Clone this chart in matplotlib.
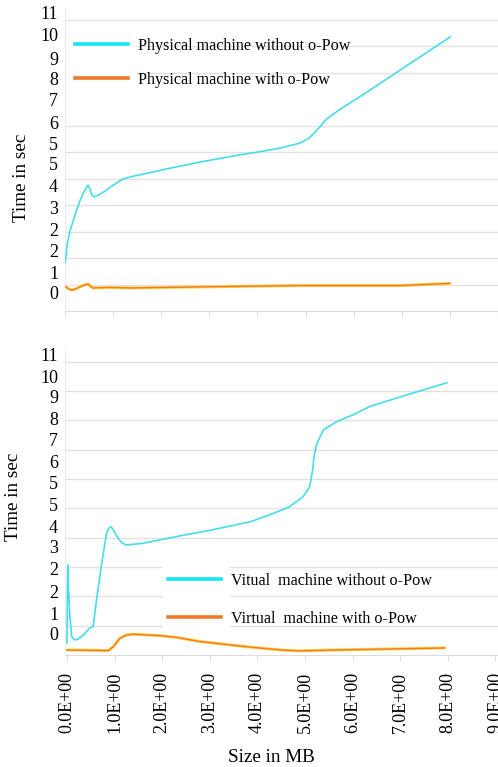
import matplotlib
matplotlib.use("Agg")
import matplotlib.pyplot as plt
from matplotlib.lines import Line2D
from matplotlib.patches import Rectangle

plt.rcParams['font.family'] = ['Liberation Serif', 'DejaVu Serif']

# ---------------- data ----------------
# Top panel: physical machine
phys_x_wo = [0.0, 0.05, 0.10, 0.17, 0.24, 0.31, 0.38, 0.44, 0.48, 0.52, 0.56, 0.60, 0.70, 0.85,
             1.0, 1.2, 1.4, 1.76, 2.1, 2.8, 3.62, 4.04, 4.45, 4.87, 5.07, 5.24, 5.42, 5.69,
             6.25, 7.07, 8.01]
phys_y_wo = [1.81, 2.55, 3.0, 3.4, 3.81, 4.15, 4.45, 4.65, 4.75, 4.6, 4.38, 4.31, 4.38, 4.55,
             4.75, 4.98, 5.08, 5.22, 5.36, 5.62, 5.89, 6.01, 6.14, 6.33, 6.52, 6.83, 7.22, 7.58,
             8.23, 9.22, 10.35]
phys_x_w = [0.0, 0.07, 0.14, 0.22, 0.31, 0.40, 0.48, 0.53, 0.58, 0.75, 0.93, 1.35, 2.8, 4.87, 6.94, 8.0]
phys_y_w = [0.94, 0.84, 0.79, 0.83, 0.91, 0.98, 1.02, 0.94, 0.87, 0.88, 0.89, 0.87, 0.91, 0.96, 0.96, 1.04]

# Bottom panel: virtual machine
virt_x_wo = [0.0, 0.01, 0.02, 0.03, 0.06, 0.10, 0.17, 0.25, 0.34, 0.48, 0.55, 0.62, 0.73, 0.83,
             0.88, 0.92, 0.96, 1.01, 1.08, 1.15, 1.25, 1.6, 2.3, 3.0, 3.84, 4.26, 4.68, 4.96,
             5.1, 5.16, 5.19, 5.25, 5.39, 5.67, 6.01, 6.37, 7.14, 7.98]
virt_y_wo = [0.40, 2.4, 3.07, 2.33, 1.3, 0.62, 0.51, 0.56, 0.68, 0.92, 0.97, 1.88, 3.13, 4.15,
             4.32, 4.38, 4.3, 4.15, 3.97, 3.83, 3.75, 3.81, 4.04, 4.25, 4.54, 4.78, 5.06, 5.40,
             5.74, 6.31, 6.77, 7.22, 7.68, 7.96, 8.19, 8.48, 8.87, 9.28]
virt_x_w = [0.0, 0.87, 0.97, 1.11, 1.25, 1.39, 1.95, 2.3, 2.79, 3.84, 4.5, 4.9, 5.6, 7.94]
virt_y_w = [0.17, 0.15, 0.28, 0.57, 0.68, 0.71, 0.66, 0.6, 0.46, 0.27, 0.17, 0.14, 0.17, 0.24]

# tick labels (as printed in the figure)
y_tick_labels = ['0', '1', '2', '2', '3', '4', '5', '5', '6', '7', '8', '9', '10', '11']
top_label_pos = [0.68, 1.47, 2.30, 3.06, 3.92, 4.75, 5.58, 6.34, 7.13, 8.0, 8.79, 9.55, 10.42, 11.25]
bot_label_pos = [0.75, 1.43, 2.18, 2.94, 3.69, 4.37, 5.12, 5.87, 6.59, 7.34, 8.05, 8.81, 9.49, 10.24]
x_ticks = list(range(10))
x_tick_labels = ['0.0E+00', '1.0E+00', '2.0E+00', '3.0E+00', '4.0E+00', '5.0E+00',
                 '6.0E+00', '7.0E+00', '8.0E+00', '9.0E+00']

legend_top = ['Physical machine without o-Pow', 'Physical machine with o-Pow']
legend_bot = ['Vitual  machine without o-Pow', 'Virtual  machine with o-Pow']

# ---------------- style ----------------
W, H = 498, 767
CYAN = '#45DDEA'
CYAN_LEG = '#16E6F5'
ORANGE = '#F07A2A'
YELLOW = '#FFD54A'
GRID = '#E2E2E2'
FS_LEG = 11.6
FS_TICK = 13
FS_LAB = 13.8

fig = plt.figure(figsize=(W / 100, H / 100), dpi=100)


def px_axes(left, top, right, bottom):
    return fig.add_axes([left / W, 1 - bottom / H, (right - left) / W, (bottom - top) / H])


def style(ax, xlim, ylim, label_pos, rect):
    ax.set_xlim(*xlim)
    ax.set_ylim(*ylim)
    for s in ['top', 'right']:
        ax.spines[s].set_visible(False)
    ax.spines['left'].set_color('#EBEBEB')
    ax.spines['bottom'].set_color('#DDDDDD')
    ax.set_axisbelow(True)
    ax.set_yticks(range(1, int(ylim[1]) + 1), minor=True)
    ax.yaxis.grid(True, which='minor', color=GRID, linewidth=1.0)
    ax.tick_params(axis='y', which='minor', length=0)
    ax.set_yticks(label_pos)
    ax.set_yticklabels(y_tick_labels, fontsize=FS_TICK)
    ax.tick_params(axis='y', which='major', length=0, pad=5)
    ax.set_xticks(x_ticks)
    ax.tick_params(axis='x', length=4, color='#DDDDDD')
    ax.add_patch(Rectangle((rect[0], rect[1]), rect[2], rect[3], transform=ax.transAxes,
                           facecolor='white', edgecolor='none', zorder=1))


def orange_line(ax, x, y):
    ax.plot(x, y, color=YELLOW, lw=2.2, solid_capstyle='round', solid_joinstyle='round', zorder=2)
    ax.plot(x, y, color=ORANGE, lw=1.0, solid_capstyle='round', solid_joinstyle='round', zorder=3)


def legend(ax, labels, anchor, spacing):
    handles = [Line2D([], [], color=CYAN_LEG, lw=2.6),
               Line2D([], [], color=ORANGE, lw=2.6)]
    return ax.legend(handles, labels, loc='upper left', bbox_to_anchor=anchor, frameon=False,
                     fontsize=FS_LEG, handlelength=3.3, handletextpad=0.62, labelspacing=spacing,
                     borderaxespad=0, borderpad=0)


# top panel
ax1 = px_axes(65, 9, 498, 311)
style(ax1, (0, (498 - 65) / 48.3), (0, 11.4), top_label_pos, (0, 0.75, 0.165, 0.2))
ax1.plot(phys_x_wo, phys_y_wo, color=CYAN, lw=1.2, solid_joinstyle='round', zorder=3)
orange_line(ax1, phys_x_w, phys_y_w)
ax1.set_xticklabels([])
legend(ax1, legend_top, ((75 - 65) / 433, 1 - (38 - 9) / 302), 1.09)

# bottom panel
ax2 = px_axes(65, 350, 498, 655)
style(ax2, ((65 - 67) / 47.6, (498 - 67) / 47.6), (0, 10.4), bot_label_pos,
      (0.226, 0.082, 0.155, 0.27))
ax2.plot(virt_x_wo, virt_y_wo, color=CYAN, lw=1.2, solid_joinstyle='round', zorder=3)
orange_line(ax2, virt_x_w, virt_y_w)
ax2.set_xticklabels(x_tick_labels, rotation=90, fontsize=FS_TICK, va='top')
ax2.tick_params(axis='x', pad=8)
legend(ax2, legend_bot, ((168 - 65) / 433, 1 - (573 - 350) / 305), 1.34)

fig.text(22 / W, 1 - 178 / H, 'Time in sec', rotation=90, ha='center', va='center', fontsize=FS_LAB)
fig.text(14 / W, 1 - 497 / H, 'Time in sec', rotation=90, ha='center', va='center', fontsize=FS_LAB)
fig.text(271 / W, 1 - 757 / H, 'Size in MB', ha='center', va='center', fontsize=FS_LAB)

fig.savefig('out.png', dpi=100, facecolor='white')
